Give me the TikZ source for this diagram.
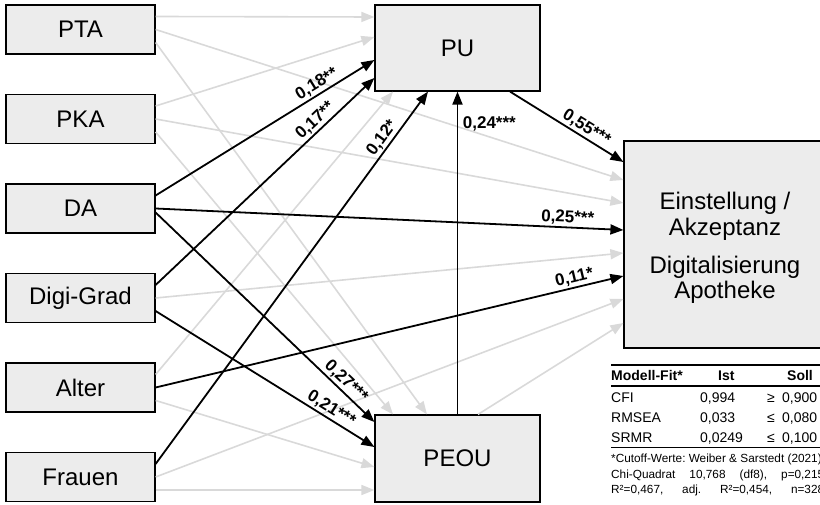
\documentclass[tikz,border=0pt]{standalone}
\usepackage{fontspec}
\setmainfont{Liberation Sans}
\usetikzlibrary{positioning,arrows.meta}

\begin{document}
\begin{tikzpicture}[x=1pt, y=-1pt,
    kasten/.style={draw, line width=1.2pt, fill=gray!15, font=\fontsize{24}{25.5}\selectfont},
    sig/.style={-{Triangle[length=13pt,width=10pt]}, line width=1.8pt, black},
    ns/.style={-{Triangle[length=13pt,width=10pt]}, line width=1.6pt, gray!30},
    coef/.style={font=\fontsize{17}{19}\selectfont\bfseries, inner sep=1.5pt},
    tab/.style={anchor=base west, inner sep=0pt, font=\fontsize{14}{16}\selectfont},
    fuss/.style={anchor=base west, inner sep=0pt, font=\fontsize{11.8}{14}\selectfont\frenchspacing},
    ]
    \path[use as bounding box, clip] (0,0) rectangle (820,505);

    % Praediktoren
    \foreach \name/\txt [count=\i from 0] in {pta/PTA, pka/PKA, da/DA, digi/Digi-Grad, alter/Alter, frauen/Frauen}{
        \node[kasten, minimum width=149pt, minimum height=49pt] (\name) at (80.5, 29.5+89.5*\i) {\txt};
    }
    \node[kasten, minimum width=165pt, minimum height=86pt] (pu) at (457.5,48) {PU};
    \node[kasten, minimum width=165pt, minimum height=87pt] (peou) at (457.5,458.5) {PEOU};
    \node[kasten, minimum width=206pt, minimum height=207pt] (ea) at (727,244.5) {};
    \node[align=center, font=\fontsize{24}{25.5}\selectfont] (ea-text) at (725,248)
        {Einstellung /\\Akzeptanz\\[12.5pt]Digitalisierung\\Apotheke};

    % nicht signifikant
    \draw[ns] ([yshift=13]pta.east) -- ([yshift=31]pu.west);
    \draw[ns] (pta.east) -- ([yshift=64.5]ea.west);
    \draw[ns] ([yshift=-13]pta.east) -- ([xshift=-30.5]peou.north);
    \draw[ns] ([yshift=13]pka.east) -- ([yshift=11]pu.west);
    \draw[ns] (pka.east) -- ([yshift=41.5]ea.west);
    \draw[ns] ([yshift=-13]pka.east) -- ([xshift=-64.5]peou.north);
    \draw[ns] (digi.east) -- ([yshift=-8.5]ea.west);
    \draw[ns] ([yshift=13]alter.east) -- ([xshift=-64.5]pu.south);
    \draw[ns] ([yshift=-13]alter.east) -- ([yshift=-8.5]peou.west);
    \draw[ns] (frauen.east) -- ([yshift=-54.5]ea.west);
    \draw[ns] ([yshift=-13]frauen.east) -- ([yshift=-31.5]peou.west);
    \draw[ns] ([xshift=20.5]peou.north) -- ([yshift=-78.5]ea.west);

    % signifikant
    \draw[sig] ([yshift=13]da.east) -- node[coef, sloped, above, pos=0.76] {0,18**} ([yshift=-12]pu.west);
    \draw[sig] (da.east) -- node[coef, sloped, above, pos=0.88] {0,25***} ([yshift=14.5]ea.west);
    \draw[sig] ([yshift=-4]da.east) -- node[coef, sloped, above, pos=0.84] {0,27***} ([yshift=36.5]peou.west);
    \draw[sig] ([yshift=13]digi.east) -- node[coef, sloped, above, pos=0.76] {0,17**} ([yshift=-30]pu.west);
    \draw[sig] ([yshift=-13]digi.east) -- node[coef, sloped, above, pos=0.78] {0,21***} ([yshift=11.5]peou.west);
    \draw[sig] (alter.east) -- node[coef, sloped, above, pos=0.9] {0,11*} ([yshift=-31.5]ea.west);
    \draw[sig] ([yshift=13]frauen.east) -- node[coef, sloped, above, pos=0.86] {0,12*} ([xshift=-29.5]pu.south);
    \draw[sig] (peou.north) -- node[coef, right, xshift=3pt, pos=0.9] {0,24***} (pu.south);
    \draw[sig] ([xshift=52.5]pu.south) -- node[coef, sloped, above, pos=0.63] {0,55***} ([yshift=82.5]ea.west);

    % Modell-Fit
    \draw[line width=1.2pt] (611,365) -- (822,365);
    \node[tab, font=\fontsize{14}{16}\selectfont\bfseries] (kopf) at (611,381) {Modell-Fit*};
    \node[tab, font=\fontsize{14}{16}\selectfont\bfseries] (kopf-ist) at (718,381) {Ist};
    \node[tab, font=\fontsize{14}{16}\selectfont\bfseries] (kopf-soll) at (787,381) {Soll};
    \draw[line width=1.2pt] (611,386) -- (822,386);
    \foreach \krit/\ist/\rel/\soll [count=\j] in {CFI/{0,994}/≥/{0,900}, RMSEA/{0,033}/≤/{0,080}, SRMR/{0,0249}/≤/{0,100}}{
        \node[tab] (krit-\j) at (611, 382+20*\j) {\krit};
        \node[tab] (ist-\j) at (700, 382+20*\j) {\ist};
        \node[tab] (rel-\j) at (767, 382+20*\j) {\rel};
        \node[tab] (soll-\j) at (782, 382+20*\j) {\soll};
    }
    \draw[line width=0.8pt] (611,447) -- (822,447);
    \node[fuss] (quelle) at (611,462) {*Cutoff-Werte: Weiber \& Sarstedt (2021)};
    \node[fuss] (chi) at (611,478) {\makebox[213pt][s]{Chi-Quadrat 10,768 (df8), p=0,215}};
    \node[fuss] (rq) at (611,493) {\makebox[213pt][s]{R²=0,467, adj. R²=0,454, n=328}};
\end{tikzpicture}
\end{document}
